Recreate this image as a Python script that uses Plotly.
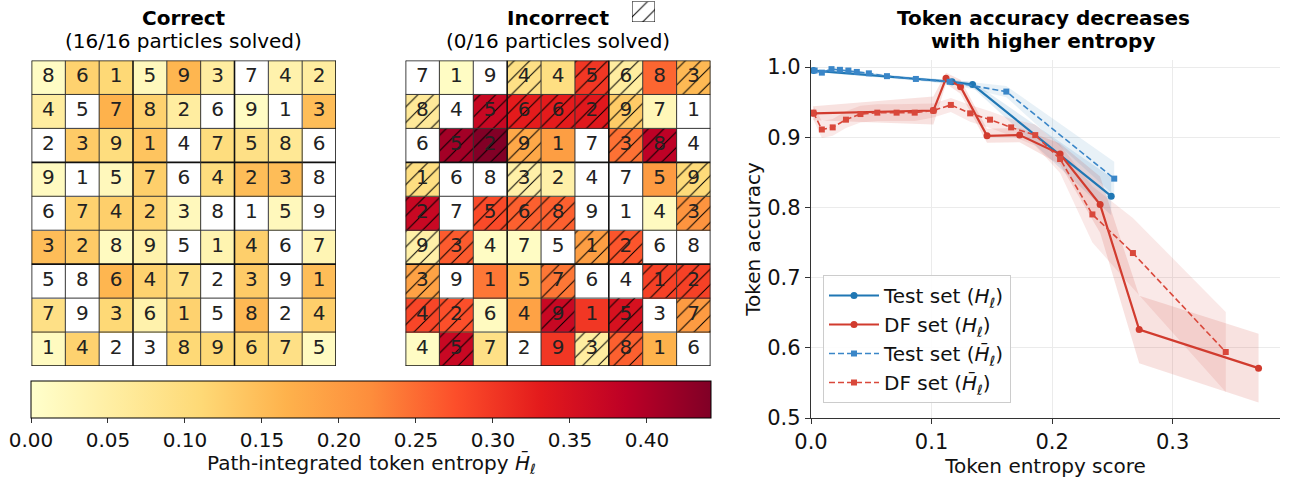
import plotly.graph_objects as go

W, H = 1289, 479
FONT = "DejaVu Sans"

# ---------------- data ----------------
correct_digits = [
    [8, 6, 1, 5, 9, 3, 7, 4, 2],
    [4, 5, 7, 8, 2, 6, 9, 1, 3],
    [2, 3, 9, 1, 4, 7, 5, 8, 6],
    [9, 1, 5, 7, 6, 4, 2, 3, 8],
    [6, 7, 4, 2, 3, 8, 1, 5, 9],
    [3, 2, 8, 9, 5, 1, 4, 6, 7],
    [5, 8, 6, 4, 7, 2, 3, 9, 1],
    [7, 9, 3, 6, 1, 5, 8, 2, 4],
    [1, 4, 2, 3, 8, 9, 6, 7, 5],
]
correct_entropy = [
    [0.010, 0.120, 0.110, 0.020, 0.160, 0.055, None, 0.040, 0.055],
    [0.055, None, 0.165, 0.120, 0.055, None, 0.010, None, 0.150],
    [None, 0.130, 0.100, 0.140, None, 0.100, 0.090, 0.070, None],
    [0.015, None, 0.020, 0.125, None, 0.100, 0.150, 0.150, None],
    [None, 0.120, 0.125, 0.120, 0.020, None, None, 0.020, None],
    [0.150, 0.130, 0.015, 0.040, None, 0.035, 0.125, None, 0.030],
    [None, None, 0.160, 0.120, 0.090, None, 0.130, None, 0.150],
    [0.090, None, 0.110, 0.040, 0.120, None, 0.155, None, 0.125],
    [0.015, 0.120, None, None, 0.110, 0.110, 0.110, 0.090, 0.015],
]
incorrect_digits = [
    [7, 1, 9, 4, 4, 5, 6, 8, 3],
    [8, 4, 5, 6, 6, 2, 9, 7, 1],
    [6, 5, 2, 9, 1, 7, 3, 8, 4],
    [1, 6, 8, 3, 2, 4, 7, 5, 9],
    [2, 7, 5, 6, 8, 9, 1, 4, 3],
    [9, 3, 4, 7, 5, 1, 2, 6, 8],
    [3, 9, 1, 5, 7, 6, 4, 1, 2],
    [4, 2, 6, 4, 9, 1, 5, 3, 7],
    [4, 5, 7, 2, 9, 3, 8, 1, 6],
]
incorrect_entropy = [
    [None, 0.010, None, 0.090, 0.095, 0.300, 0.055, 0.255, 0.155],
    [0.065, None, 0.370, 0.330, 0.330, 0.335, 0.130, 0.025, None],
    [None, 0.410, 0.440, 0.180, 0.195, None, 0.245, 0.385, None],
    [0.095, None, None, 0.045, 0.045, None, None, 0.200, 0.105],
    [0.370, None, 0.280, 0.260, 0.260, None, None, 0.015, 0.210],
    [0.045, 0.265, 0.010, 0.010, None, 0.195, 0.270, None, None],
    [0.190, None, 0.240, 0.150, 0.240, None, None, 0.290, 0.290],
    [0.285, 0.275, 0.015, 0.190, 0.370, 0.300, 0.350, None, 0.200],
    [0.010, 0.370, 0.090, None, 0.300, 0.055, 0.260, 0.165, None],
]
# columns of wrong (hatched) tokens per row
incorrect_wrong_cols = [
    [3, 5, 6, 8],
    [0, 2, 3, 4, 5, 6],
    [1, 2, 3, 6, 7],
    [0, 3, 8],
    [0, 2, 3, 4, 8],
    [0, 1, 5, 6],
    [0, 4, 7, 8],
    [0, 1, 4, 6, 8],
    [1, 5, 6],
]
cbar_max = 0.4416
cbar_ticks = [0.00, 0.05, 0.10, 0.15, 0.20, 0.25, 0.30, 0.35, 0.40]

# token accuracy vs entropy
test_h_x = [0.002, 0.117, 0.134, 0.249]
test_h_y = [0.995, 0.979, 0.975, 0.816]
test_h_sd = [0.002, 0.003, 0.004, 0.027]

df_h_x = [0.002, 0.1015, 0.112, 0.124, 0.146, 0.173, 0.2066, 0.2398, 0.2722, 0.3712]
df_h_y = [0.934, 0.938, 0.984, 0.972, 0.902, 0.903, 0.876, 0.804, 0.626, 0.571]
df_h_sd = [0.010, 0.020, 0.008, 0.010, 0.010, 0.010, 0.015, 0.040, 0.048, 0.049]

test_hb_x = [0.003, 0.009, 0.017, 0.024, 0.031, 0.038, 0.048, 0.063, 0.087, 0.115, 0.162, 0.2515]
test_hb_y = [0.995, 0.992, 0.997, 0.996, 0.995, 0.993, 0.991, 0.987, 0.983, 0.979, 0.965, 0.841]
test_hb_sd = [0.002, 0.002, 0.002, 0.002, 0.002, 0.002, 0.002, 0.002, 0.002, 0.003, 0.008, 0.024]

df_hb_x = [0.002, 0.009, 0.018, 0.029, 0.041, 0.055, 0.071, 0.086, 0.1015, 0.116, 0.132,
           0.1485, 0.166, 0.186, 0.2066, 0.2334, 0.267, 0.344]
df_hb_y = [0.935, 0.911, 0.914, 0.925, 0.933, 0.935, 0.935, 0.935, 0.938, 0.946, 0.934,
           0.925, 0.914, 0.903, 0.869, 0.790, 0.735, 0.594]
df_hb_sd = [0.010, 0.012, 0.012, 0.012, 0.012, 0.012, 0.012, 0.012, 0.010, 0.010, 0.012,
            0.012, 0.012, 0.015, 0.020, 0.040, 0.050, 0.057]

# ---------------- style ----------------
YLORRD = ["#ffffcc", "#ffeda0", "#fed976", "#feb24c", "#fd8d3c",
          "#fc4e2a", "#e31a1c", "#bd0026", "#800026"]
cscale = [[i / (len(YLORRD) - 1), c] for i, c in enumerate(YLORRD)]
BLUE = "#1f77b4"
RED = "#d13b2e"
FS = 20

fig = go.Figure()

def px_x(p):
    return p / W

def px_y(p):
    return 1 - p / H

grid_specs = [
    dict(xa="x", ya="y", digits=correct_digits, ent=correct_entropy,
         x0=31.5, x1=336, title="Correct", sub="(16/16 particles solved)"),
    dict(xa="x2", ya="y2", digits=incorrect_digits, ent=incorrect_entropy,
         x0=405.5, x1=710.5, title="Incorrect", sub="(0/16 particles solved)"),
]
gy0, gy1 = 60.5, 366

shapes = []
annotations = []
for gi, g in enumerate(grid_specs):
    fig.add_trace(go.Heatmap(
        z=g["ent"], x=list(range(9)), y=list(range(9)),
        colorscale=cscale, zmin=0, zmax=cbar_max,
        xaxis=g["xa"], yaxis=g["ya"], hoverinfo="skip",
        showscale=(gi == 0),
        colorbar=dict(
            orientation="h", x=371 / W, xanchor="center",
            y=px_y(381), yanchor="top",
            len=680, lenmode="pixels", thickness=37, thicknessmode="pixels",
            outlinecolor="black", outlinewidth=1, xpad=0, ypad=0,
            tickvals=cbar_ticks, ticktext=[f"{t:.2f}" for t in cbar_ticks],
            ticks="outside", ticklen=5, tickcolor="#333",
            tickfont=dict(family=FONT, size=FS, color="#111"),
        ),
    ))
    xs, ys, ts = [], [], []
    for r in range(9):
        for c in range(9):
            xs.append(c)
            ys.append(r)
            ts.append(str(g["digits"][r][c]))
    fig.add_trace(go.Scatter(
        x=xs, y=ys, text=ts, mode="text", xaxis=g["xa"], yaxis=g["ya"],
        textfont=dict(family=FONT, size=20, color="#222"),
        hoverinfo="skip", showlegend=False,
    ))
    axn = "" if gi == 0 else str(gi + 1)
    fig.update_layout(**{
        "xaxis" + axn: dict(domain=[px_x(g["x0"]), px_x(g["x1"])], range=[-0.5, 8.5],
                            showgrid=False, zeroline=False, showticklabels=False,
                            ticks="", fixedrange=True),
        "yaxis" + axn: dict(domain=[px_y(gy1), px_y(gy0)], range=[8.5, -0.5],
                            showgrid=False, zeroline=False, showticklabels=False,
                            ticks="", fixedrange=True),
    })
    for k in range(10):
        w = 1.6 if k % 3 == 0 else 1.0
        col = "#111" if k % 3 == 0 else "#333"
        shapes.append(dict(type="line", xref=g["xa"], yref=g["ya"],
                           x0=k - 0.5, x1=k - 0.5, y0=-0.5, y1=8.5,
                           line=dict(color=col, width=w)))
        shapes.append(dict(type="line", xref=g["xa"], yref=g["ya"],
                           x0=-0.5, x1=8.5, y0=k - 0.5, y1=k - 0.5,
                           line=dict(color=col, width=w)))
    cx = (g["x0"] + g["x1"]) / 2 / W
    annotations.append(dict(text="<b>" + g["title"] + "</b>", x=cx, y=px_y(18),
                            xref="paper", yref="paper", showarrow=False,
                            font=dict(family=FONT, size=FS, color="#000"),
                            xanchor="center", yanchor="middle"))
    annotations.append(dict(text=g["sub"], x=cx, y=px_y(41),
                            xref="paper", yref="paper", showarrow=False,
                            font=dict(family=FONT, size=FS, color="#000"),
                            xanchor="center", yanchor="middle"))

annotations.append(dict(text="Path-integrated token entropy <i>H̄</i><sub><i>ℓ</i></sub>",
                        x=371 / W, y=px_y(463), xref="paper", yref="paper",
                        showarrow=False, xanchor="center", yanchor="middle",
                        font=dict(family=FONT, size=FS, color="#111")))

# hatching of wrong tokens
hx, hbase = [], []
for r, cols in enumerate(incorrect_wrong_cols):
    for c in cols:
        hx.append(c)
        hbase.append(r - 0.5)
pattern = dict(shape="/", fgcolor="#000", bgcolor="rgba(0,0,0,0)", size=11,
               solidity=0.09, fgopacity=1)
fig.add_trace(go.Bar(
    x=hx, y=[1] * len(hx), base=hbase, width=1, xaxis="x2", yaxis="y2",
    marker=dict(color="rgba(0,0,0,0)", line=dict(width=0), pattern=pattern),
    hoverinfo="skip", showlegend=False,
))
# hatch key icon
fig.add_trace(go.Bar(
    x=[0], y=[1], width=1, xaxis="x4", yaxis="y4",
    marker=dict(color="rgba(0,0,0,0)", line=dict(width=1, color="#000"), pattern=pattern),
    hoverinfo="skip", showlegend=False,
))
fig.update_layout(
    xaxis4=dict(domain=[px_x(632), px_x(655)], range=[-0.5, 0.5], visible=False, fixedrange=True),
    yaxis4=dict(domain=[px_y(22), px_y(1.5)], range=[0, 1], visible=False, fixedrange=True),
)

# ---------------- accuracy plot ----------------
def band(x, y, sd, color):
    up = [a + s for a, s in zip(y, sd)]
    lo = [a - s for a, s in zip(y, sd)]
    return go.Scatter(x=list(x) + list(x)[::-1], y=up + lo[::-1], fill="toself",
                      fillcolor=color, line=dict(width=0), mode="lines",
                      xaxis="x3", yaxis="y3", hoverinfo="skip", showlegend=False)

fig.add_trace(band(test_h_x, test_h_y, test_h_sd, "rgba(31,119,180,0.13)"))
fig.add_trace(band(df_h_x, df_h_y, df_h_sd, "rgba(209,59,46,0.15)"))
fig.add_trace(band(test_hb_x, test_hb_y, test_hb_sd, "rgba(31,119,180,0.10)"))
fig.add_trace(band(df_hb_x, df_hb_y, df_hb_sd, "rgba(209,59,46,0.11)"))

fig.add_trace(go.Scatter(x=test_h_x, y=test_h_y, mode="lines+markers",
                         name="Test set (<i>H</i><sub><i>ℓ</i></sub>)",
                         line=dict(color=BLUE, width=2.2),
                         marker=dict(symbol="circle", size=7, color=BLUE),
                         xaxis="x3", yaxis="y3"))
fig.add_trace(go.Scatter(x=df_h_x, y=df_h_y, mode="lines+markers",
                         name="DF set (<i>H</i><sub><i>ℓ</i></sub>)",
                         line=dict(color=RED, width=2.2),
                         marker=dict(symbol="circle", size=7, color=RED),
                         xaxis="x3", yaxis="y3"))
fig.add_trace(go.Scatter(x=test_hb_x, y=test_hb_y, mode="lines+markers",
                         name="Test set (<i>H̄</i><sub><i>ℓ</i></sub>)",
                         line=dict(color="#3a86c8", width=1.6, dash="6px,3px"),
                         marker=dict(symbol="square", size=6, color="#3a86c8"),
                         xaxis="x3", yaxis="y3"))
fig.add_trace(go.Scatter(x=df_hb_x, y=df_hb_y, mode="lines+markers",
                         name="DF set (<i>H̄</i><sub><i>ℓ</i></sub>)",
                         line=dict(color="#d9483b", width=1.6, dash="6px,3px"),
                         marker=dict(symbol="square", size=6, color="#d9483b"),
                         xaxis="x3", yaxis="y3"))

fig.update_layout(
    xaxis3=dict(domain=[px_x(811), px_x(1280)], range=[0, 0.389], anchor="y3",
                tickvals=[0.0, 0.1, 0.2, 0.3], ticktext=["0.0", "0.1", "0.2", "0.3"],
                ticks="outside", ticklen=5, tickcolor="#333",
                showline=True, linecolor="#333", linewidth=1.3,
                showgrid=True, gridcolor="#ebebeb", gridwidth=1, zeroline=False,
                tickfont=dict(family=FONT, size=21, color="#111"),
                title=dict(text="Token entropy score", standoff=4,
                           font=dict(family=FONT, size=FS, color="#111")),
                fixedrange=True),
    yaxis3=dict(domain=[px_y(418), px_y(60)], range=[0.5, 1.01], anchor="x3",
                tickvals=[0.5, 0.6, 0.7, 0.8, 0.9, 1.0],
                ticktext=["0.5", "0.6", "0.7", "0.8", "0.9", "1.0"],
                ticks="outside", ticklen=5, tickcolor="#333",
                showline=True, linecolor="#333", linewidth=1.3,
                showgrid=True, gridcolor="#ebebeb", gridwidth=1, zeroline=False,
                tickfont=dict(family=FONT, size=21, color="#111"),
                title=dict(text="Token accuracy", standoff=1,
                           font=dict(family=FONT, size=FS, color="#111")),
                fixedrange=True),
)
for txt, yp in (("Token accuracy decreases", 18), ("with higher entropy", 41)):
    annotations.append(dict(text="<b>" + txt + "</b>",
                            x=1043 / W, y=px_y(yp), xref="paper", yref="paper",
                            showarrow=False, xanchor="center", yanchor="middle",
                            font=dict(family=FONT, size=FS, color="#000")))

fig.update_layout(
    width=W, height=H,
    margin=dict(l=0, r=0, t=0, b=0, autoexpand=False),
    paper_bgcolor="white", plot_bgcolor="white",
    font=dict(family=FONT, size=FS, color="#111"),
    shapes=shapes, annotations=annotations, barmode="overlay",
    showlegend=True,
    legend=dict(x=px_x(823), y=px_y(275), xanchor="left", yanchor="top",
                bgcolor="rgba(255,255,255,0.9)", bordercolor="#cccccc", borderwidth=1,
                font=dict(family=FONT, size=FS, color="#111"),
                itemwidth=50, tracegroupgap=4),
)

fig.write_html("out.html")
